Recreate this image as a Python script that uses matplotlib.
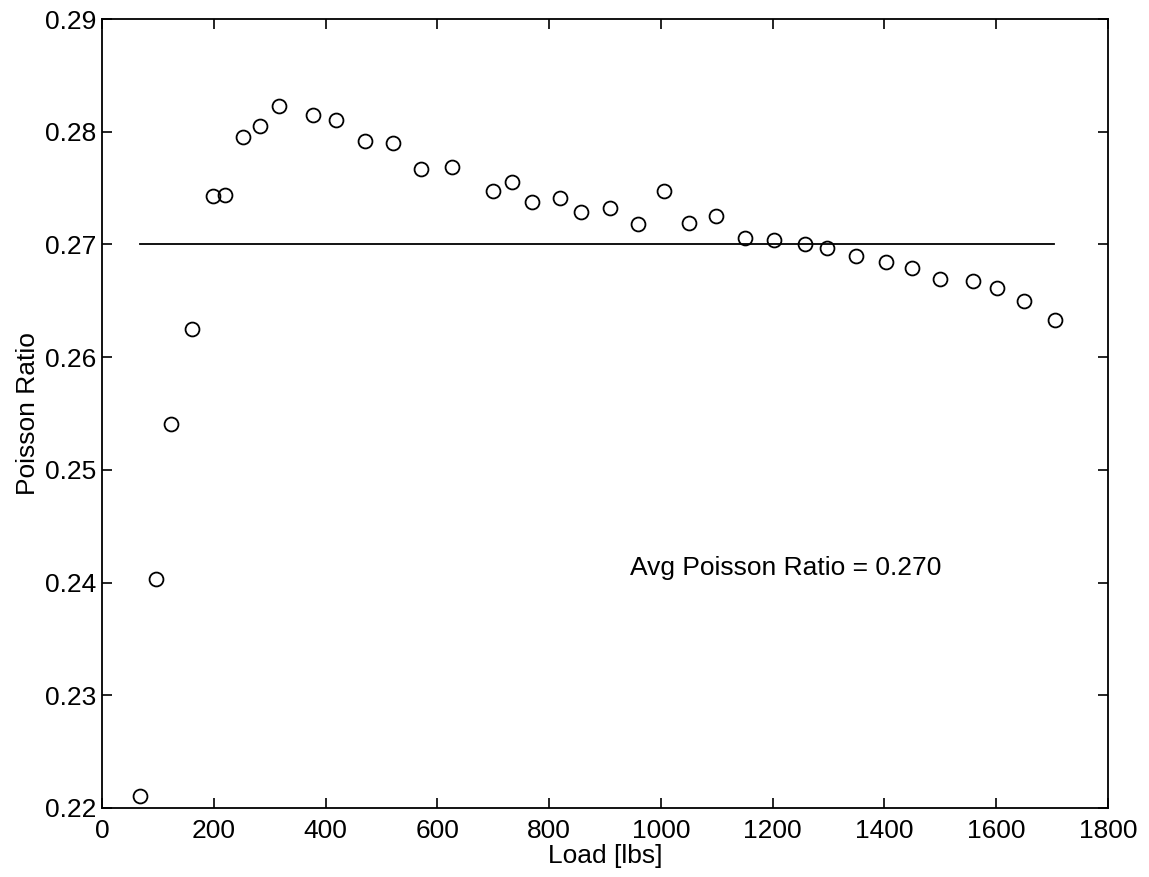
import matplotlib
matplotlib.use('Agg')
import matplotlib.pyplot as plt

# Poisson ratio vs load
load = [68, 97, 124, 161, 199, 220, 252, 282, 316, 377, 419, 471, 520, 571, 626,
        700, 734, 769, 819, 857, 909, 959, 1005, 1051, 1098, 1151, 1203, 1257,
        1298, 1349, 1402, 1449, 1499, 1558, 1601, 1650, 1705]
poisson = [0.2211, 0.2403, 0.2541, 0.2625, 0.2743, 0.2744, 0.2795, 0.2805, 0.2823,
           0.2815, 0.2810, 0.2792, 0.2790, 0.2767, 0.2769,
           0.2747, 0.2755, 0.2738, 0.2741, 0.2729, 0.2732, 0.2718, 0.2747, 0.2719,
           0.2725, 0.2706, 0.2704, 0.2700,
           0.2697, 0.2690, 0.2684, 0.2679, 0.2669, 0.2668, 0.2661, 0.2650, 0.2633]
avg_load = [68, 1703]
avg_value = [0.270, 0.270]

plt.rcParams['font.family'] = ['Liberation Sans', 'DejaVu Sans']

fig = plt.figure(figsize=(11.49, 8.77), dpi=100)
ax = fig.add_axes([0.0888, 0.0787, 0.8755, 0.8996])

ax.plot(load, poisson, 'o', mfc='none', mec='black', ms=10, mew=1.3)
ax.plot(avg_load, avg_value, 'k-', lw=1.3)
ax.text(945, 0.2413, 'Avg Poisson Ratio = 0.270', fontsize=19, va='center')

ax.set_xlim(0, 1800)
ax.set_ylim(0.22, 0.29)
ax.set_xticks(range(0, 1801, 200))
ax.set_yticks([0.22, 0.23, 0.24, 0.25, 0.26, 0.27, 0.28, 0.29])
ax.set_yticklabels(['0.22', '0.23', '0.24', '0.25', '0.26', '0.27', '0.28', '0.29'])
ax.tick_params(direction='in', length=7, width=1.2, labelsize=19,
               top=True, right=True)
ax.tick_params(axis='x', pad=8)
ax.tick_params(axis='y', pad=4)
for s in ax.spines.values():
    s.set_linewidth(1.3)

ax.set_xlabel('Load [lbs]', fontsize=19, labelpad=1)
ax.set_ylabel('Poisson Ratio', fontsize=19, labelpad=4)

fig.savefig('out.png', dpi=100)
